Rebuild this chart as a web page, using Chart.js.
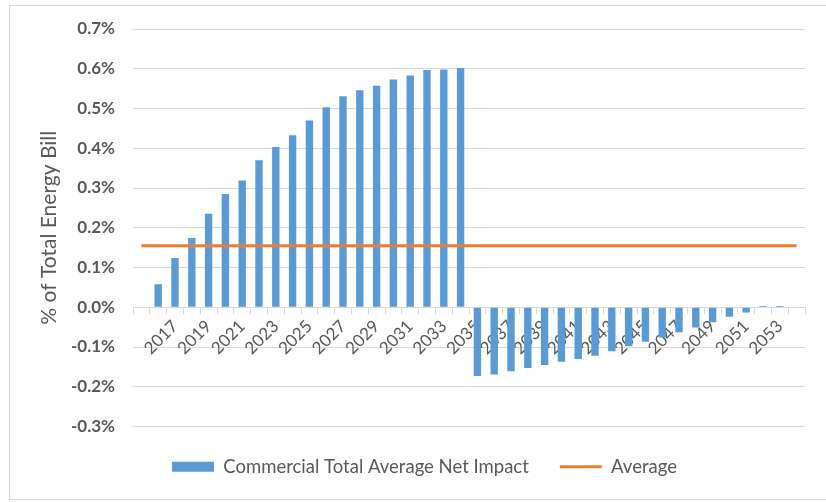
<!DOCTYPE html>
<html>
<head>
<meta charset="utf-8">
<script src="https://cdn.jsdelivr.net/npm/chart.js@4/dist/chart.umd.min.js"></script>
<style>
  html, body { margin: 0; padding: 0; background: #ffffff; }
  #wrap { position: relative; width: 826px; height: 502px; overflow: hidden; }
  #frame { position: absolute; left: 9px; top: 5px; width: 830px; height: 495px;
           border: 1px solid #d9d9d9; box-sizing: border-box; }
  #chart { position: absolute; left: 0; top: 0; }
</style>
</head>
<body>
<div id="wrap">
  <div id="frame"></div>
  <canvas id="chart" width="826" height="502"></canvas>
</div>
<script>
// Years on the category axis
const years = [
  '2015', '2016', '2017', '2018', '2019', '2020', '2021', '2022', '2023', '2024',
  '2025', '2026', '2027', '2028', '2029', '2030', '2031', '2032', '2033', '2034',
  '2035', '2036', '2037', '2038', '2039', '2040', '2041', '2042', '2043', '2044',
  '2045', '2046', '2047', '2048', '2049', '2050', '2051', '2052', '2053', '2054'
];

// Years that carry a visible tick label
const labelledYears = [
  '2017', '2019', '2021', '2023', '2025', '2027', '2029', '2031', '2033', '2035',
  '2037', '2039', '2041', '2043', '2045', '2047', '2049', '2051', '2053'
];

// Commercial total average net impact, % of total energy bill
const netImpact = [
  null, 0.058, 0.124, 0.174, 0.235, 0.285, 0.319, 0.370, 0.403, 0.433,
  0.470, 0.503, 0.531, 0.546, 0.557, 0.573, 0.583, 0.597, 0.598, 0.602,
  -0.173, -0.169, -0.161, -0.153, -0.145, -0.137, -0.130, -0.122, -0.111, -0.098,
  -0.087, -0.076, -0.063, -0.051, -0.038, -0.024, -0.013, 0.003, 0.003, null
];

// Average over the whole period, % of total energy bill
const averageImpact = [
  0.155, 0.155, 0.155, 0.155, 0.155, 0.155, 0.155, 0.155, 0.155, 0.155,
  0.155, 0.155, 0.155, 0.155, 0.155, 0.155, 0.155, 0.155, 0.155, 0.155,
  0.155, 0.155, 0.155, 0.155, 0.155, 0.155, 0.155, 0.155, 0.155, 0.155,
  0.155, 0.155, 0.155, 0.155, 0.155, 0.155, 0.155, 0.155, 0.155, 0.155
];

const textColor = '#595959';
const gridColor = '#d9d9d9';

Chart.defaults.font.family = 'Lato, "Open Sans", sans-serif';
Chart.defaults.font.size = 17;
Chart.defaults.color = textColor;

// Nudge the legend row a little to the right of the canvas centre
const legendShift = {
  id: 'legendShift',
  afterLayout(chart) {
    if (chart.legend) {
      chart.legend.left += 17;
      chart.legend.right += 17;
    }
  }
};

new Chart(document.getElementById('chart'), {
  plugins: [legendShift],
  data: {
    labels: years,
    datasets: [
      {
        type: 'bar',
        label: 'Commercial Total Average Net Impact',
        data: netImpact,
        backgroundColor: '#5b9bd5',
        borderWidth: 0,
        barPercentage: 0.44,
        categoryPercentage: 1.0,
        pointStyle: 'rect',
        order: 1
      },
      {
        type: 'line',
        label: 'Average',
        data: averageImpact,
        borderColor: '#ed7d31',
        backgroundColor: '#ed7d31',
        borderWidth: 3,
        pointRadius: 0,
        pointStyle: 'line',
        tension: 0,
        order: 0
      }
    ]
  },
  options: {
    responsive: false,
    animation: false,
    events: [],
    layout: { padding: { left: 10, right: 21, top: 29, bottom: 16 } },
    plugins: {
      tooltip: { enabled: false },
      legend: {
        position: 'bottom',
        labels: {
          usePointStyle: true,
          pointStyleWidth: 42,
          boxHeight: 10,
          padding: 31,
          color: textColor,
          font: { size: 18.5 },
          sort: (a, b) => a.datasetIndex - b.datasetIndex
        }
      }
    },
    scales: {
      x: {
        type: 'category',
        position: { y: 0 },
        offset: true,
        grid: {
          offset: true,
          drawOnChartArea: false,
          drawTicks: true,
          tickLength: 6,
          color: gridColor
        },
        border: { color: gridColor, width: 1 },
        ticks: {
          autoSkip: false,
          maxRotation: 45,
          minRotation: 45,
          padding: 3,
          color: textColor,
          font: { size: 17 },
          callback: function (value) {
            const label = this.getLabelForValue(value);
            return labelledYears.includes(label) ? label : '';
          }
        }
      },
      y: {
        type: 'linear',
        min: -0.3,
        max: 0.7,
        grid: { color: gridColor, drawTicks: false },
        border: { display: false },
        ticks: {
          stepSize: 0.1,
          padding: 18,
          color: textColor,
          font: { size: 17, weight: 'bold' },
          callback: (v) => v.toFixed(1) + '%'
        },
        title: {
          display: true,
          text: '% of Total Energy Bill',
          color: textColor,
          font: { size: 21 },
          padding: { top: 27, bottom: 0 }
        },
        afterFit: (scale) => { scale.width = 123; }
      }
    }
  }
});
</script>
</body>
</html>
